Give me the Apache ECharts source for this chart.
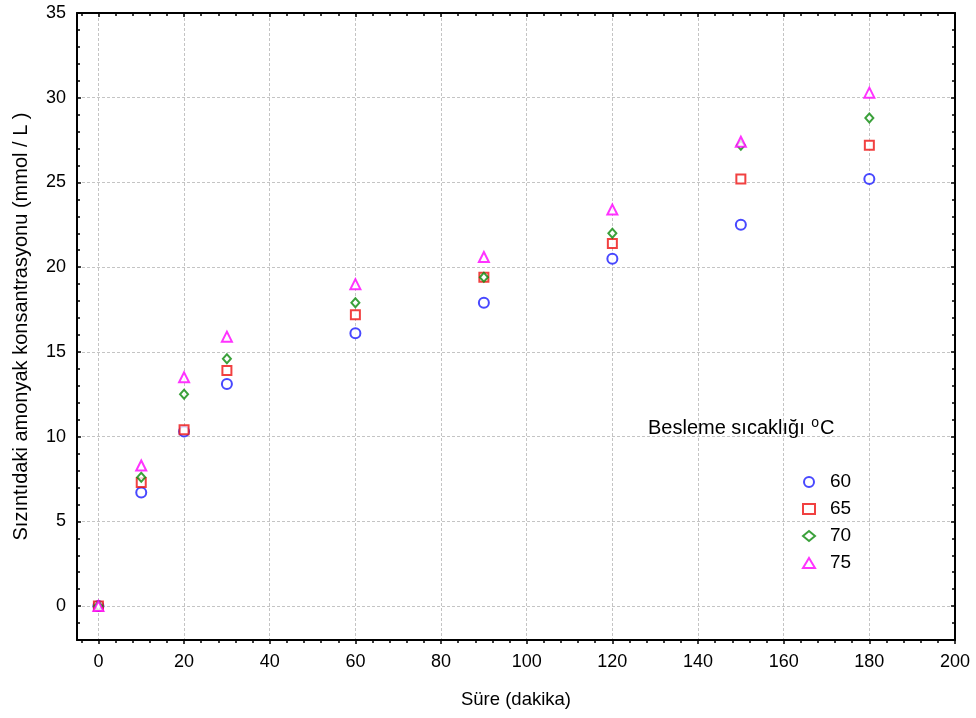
<!DOCTYPE html>
<html>
<head>
<meta charset="utf-8">
<script src="https://cdn.jsdelivr.net/npm/echarts@6/dist/echarts.min.js"></script>
<style>
  html, body { margin: 0; padding: 0; background: #fff; }
  #chart { width: 976px; height: 718px; }
</style>
</head>
<body>
<div id="chart"></div>
<script>
// süre (dakika)
const times = [0, 10, 20, 30, 60, 90, 120, 150, 180];
// besleme sıcaklığı serileri
const t60 = [0, 6.7, 10.3, 13.1, 16.1, 17.9, 20.5, 22.5, 25.2];
const t65 = [0, 7.3, 10.4, 13.9, 17.2, 19.4, 21.4, 25.2, 27.2];
const t70 = [0, 7.6, 12.5, 14.6, 17.9, 19.4, 22.0, 27.2, 28.8];
const t75 = [0, 8.3, 13.5, 15.9, 19.0, 20.6, 23.4, 27.4, 30.3];
const seriesNames = ['60', '65', '70', '75'];

// eksen etiketleri
const xTicks = [0, 20, 40, 60, 80, 100, 120, 140, 160, 180, 200];
const yTicks = [0, 5, 10, 15, 20, 25, 30, 35];
const xMinor = [];
for (let v = -4; v <= 200; v += 4) xMinor.push(v);
const yMinor = [];
for (let v = -2; v <= 35; v += 1) yMinor.push(v);

const X_MIN = -5, X_MAX = 200, Y_MIN = -2, Y_MAX = 35;
const FONT = 'Liberation Sans, Arial, sans-serif';
const lineStyle = { color: '#000', width: 2 };
const gridLine = { show: true, lineStyle: { color: '#c4c4c4', type: [3, 2], width: 1 } };

function pair(xs) {
  return times.map((t, i) => [t, xs[i]]);
}

// yardımcı eksen: sadece tik çizgileri
function tickAxis(pos, values, len, inside) {
  const isX = pos === 'bottom' || pos === 'top';
  return {
    type: 'value', position: pos,
    min: isX ? X_MIN : Y_MIN,
    max: isX ? X_MAX : Y_MAX,
    axisLine: { show: false, onZero: false },
    axisTick: { show: true, inside: inside, length: len, customValues: values, lineStyle: { color: '#000', width: 1.5 } },
    axisLabel: { show: false },
    splitLine: { show: false }
  };
}

const chart = echarts.init(document.getElementById('chart'));

const option = {
  backgroundColor: '#fff',
  animation: false,
  textStyle: { fontFamily: FONT },
  grid: { left: 77, right: 21, top: 13, bottom: 78, containLabel: false },
  xAxis: [
    {
      type: 'value', position: 'bottom', min: X_MIN, max: X_MAX,
      name: 'Süre (dakika)', nameLocation: 'middle', nameGap: 50,
      nameTextStyle: { fontSize: 18.5, color: '#000', fontFamily: FONT },
      axisLine: { show: true, onZero: false, lineStyle: lineStyle },
      axisTick: { show: true, length: 4, customValues: xTicks, lineStyle: { color: '#000', width: 1.5 } },
      axisLabel: { customValues: xTicks, fontSize: 18, color: '#000', margin: 13, fontFamily: FONT },
      splitLine: gridLine
    },
    tickAxis('bottom', xMinor, 3, false),
    {
      type: 'value', position: 'top', min: X_MIN, max: X_MAX,
      axisLine: { show: true, onZero: false, lineStyle: lineStyle },
      axisTick: { show: true, inside: true, length: 4, customValues: xTicks, lineStyle: { color: '#000', width: 1.5 } },
      axisLabel: { show: false },
      splitLine: { show: false }
    },
    tickAxis('top', xMinor, 3, true)
  ],
  yAxis: [
    {
      type: 'value', position: 'left', min: Y_MIN, max: Y_MAX,
      name: 'Sızıntıdaki amonyak konsantrasyonu (mmol / L )', nameLocation: 'middle', nameGap: 46,
      nameTextStyle: { fontSize: 20, color: '#000', fontFamily: FONT },
      axisLine: { show: true, onZero: false, lineStyle: lineStyle },
      axisTick: { show: true, inside: true, length: 4, customValues: yTicks, lineStyle: { color: '#000', width: 1.5 } },
      axisLabel: { customValues: yTicks, fontSize: 18, color: '#000', margin: 11, fontFamily: FONT },
      splitLine: gridLine
    },
    tickAxis('left', yMinor, 3, true),
    {
      type: 'value', position: 'right', min: Y_MIN, max: Y_MAX,
      axisLine: { show: true, onZero: false, lineStyle: lineStyle },
      axisTick: { show: true, inside: true, length: 4, customValues: yTicks, lineStyle: { color: '#000', width: 1.5 } },
      axisLabel: { show: false },
      splitLine: { show: false }
    },
    tickAxis('right', yMinor, 3, true)
  ],
  legend: {
    orient: 'vertical', left: 797, top: 467,
    itemWidth: 12, itemHeight: 10, itemGap: 7,
    textStyle: { fontSize: 19, color: '#000', lineHeight: 20, padding: [0, 0, 0, 10], fontFamily: FONT },
    data: seriesNames
  },
  graphic: [
    {
      type: 'text', left: 648, top: 416,
      style: {
        text: '{a|Besleme sıcaklığı }{s|o}{a|C}',
        rich: {
          a: { fontSize: 20, fill: '#000', fontFamily: FONT, lineHeight: 24 },
          s: { fontSize: 14, fill: '#000', fontFamily: FONT, verticalAlign: 'top', lineHeight: 24, padding: [0, 1, 7, 1] }
        }
      }
    }
  ],
  series: [
    {
      name: seriesNames[0], type: 'scatter', data: pair(t60),
      symbol: 'emptyCircle', symbolSize: 10,
      itemStyle: { color: '#1a1aff', borderWidth: 1.2 }
    },
    {
      name: seriesNames[1], type: 'scatter', data: pair(t65),
      symbol: 'emptyRect', symbolSize: 9,
      itemStyle: { color: '#ee1111', borderWidth: 1.2 }
    },
    {
      name: seriesNames[2], type: 'scatter', data: pair(t70),
      symbol: 'emptyDiamond', symbolSize: [8, 9],
      itemStyle: { color: '#0a8a0a', borderWidth: 1.2 }
    },
    {
      name: seriesNames[3], type: 'scatter', data: pair(t75),
      symbol: 'emptyTriangle', symbolSize: 10,
      itemStyle: { color: '#ff00ff', borderWidth: 1.5 }
    }
  ]
};

chart.setOption(option);
</script>
</body>
</html>
